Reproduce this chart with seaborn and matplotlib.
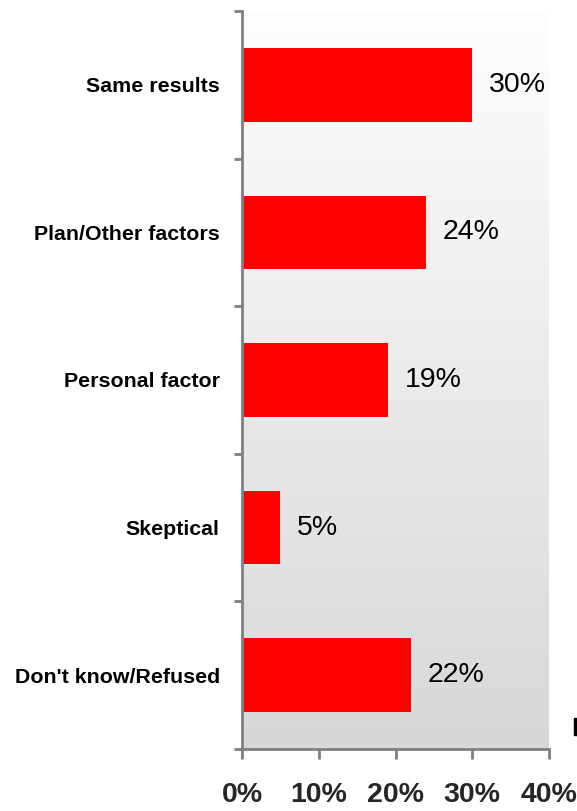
import numpy as np
import pandas as pd
import matplotlib
matplotlib.use("Agg")
import matplotlib.pyplot as plt
import seaborn as sns
from matplotlib.colors import LinearSegmentedColormap
from matplotlib.ticker import FixedLocator, PercentFormatter

# Reasons and their shares (%)
categories = ["Same results", "Plan/Other factors", "Personal factor",
              "Skeptical", "Don't know/Refused"]
values = [30, 24, 19, 5, 22]
x_ticks = [0, 10, 20, 30, 40]

df = pd.DataFrame({"reason": categories, "share": values})

sns.set_theme(style="white")
plt.rcParams["font.family"] = ["Liberation Sans", "DejaVu Sans"]

W, H = 577, 811
fig = plt.figure(figsize=(W / 100, H / 100), dpi=100)
ax = fig.add_axes([242 / W, (H - 749) / H, (549 - 242) / W, (749 - 11) / H])

# Vertical grey gradient behind the bars
grad = np.linspace(0, 1, 256).reshape(-1, 1)
cmap = LinearSegmentedColormap.from_list("bg", ["#fefefe", "#d8d8d8"])
ax.imshow(grad, aspect="auto", cmap=cmap, extent=[0, 1, 0, 1],
          transform=ax.transAxes, zorder=0, interpolation="bilinear")

sns.barplot(data=df, y="reason", x="share", orient="h", color="#ff0000",
            saturation=1, width=0.5, ax=ax, zorder=2)
for p in ax.patches:
    p.set_edgecolor("none")

ax.bar_label(ax.containers[0], labels=[f"{v}%" for v in values],
             padding=12, fontsize=20.5, color="black")

ax.set_xlim(0, 40)
ax.set_ylim(len(categories) - 0.5, -0.5)
ax.set_xlabel("")
ax.set_ylabel("")

ax.xaxis.set_major_locator(FixedLocator(x_ticks))
ax.xaxis.set_major_formatter(PercentFormatter(decimals=0))
for lbl in ax.get_xticklabels():
    lbl.set_fontweight("bold")
    lbl.set_fontsize(20.5)

ax.yaxis.set_minor_locator(FixedLocator(np.arange(-0.5, len(categories), 1.0)))
ax.tick_params(axis="y", which="major", length=0, pad=16, labelsize=15.4)
ax.tick_params(axis="y", which="minor", left=True, length=6, width=2,
               color="#808080", direction="out")
ax.tick_params(axis="x", which="major", bottom=True, length=7, width=2,
               color="#808080", direction="out", pad=17)
for lbl in ax.get_yticklabels():
    lbl.set_fontweight("bold")
    lbl.set_color("black")

for side in ["top", "right"]:
    ax.spines[side].set_visible(False)
for side in ["left", "bottom"]:
    ax.spines[side].set_color("#808080")
    ax.spines[side].set_linewidth(2)

# small mark at the right edge
fig.patches.append(plt.Rectangle((574 / W, (H - 735) / H), 3 / W, 17 / H,
                                 transform=fig.transFigure, color="black"))

fig.savefig("out.png", dpi=100)
